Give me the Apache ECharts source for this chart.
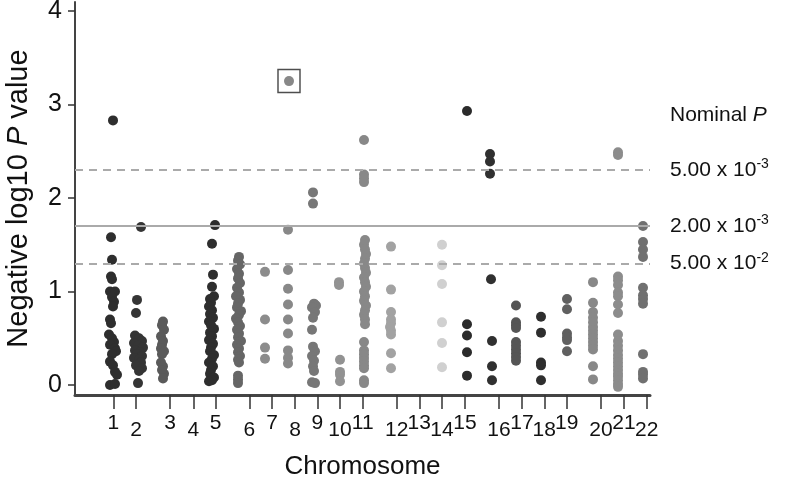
<!DOCTYPE html>
<html>
<head>
<meta charset="utf-8">
<script src="https://cdn.jsdelivr.net/npm/echarts@6/dist/echarts.min.js"></script>
<style>html,body{margin:0;padding:0;background:#fff}#c{width:797px;height:479px}</style>
</head>
<body>
<div id="c"></div>
<script>
// Chromosome names and their cumulative (genome) tick positions
const chromNames = ['1','2','3','4','5','6','7','8','9','10','11','12','13','14','15','16','17','18','19','20','21','22'];
const chromTicks = [38.3, 61, 95, 118.3, 140.7, 174.3, 197, 220, 242.3, 265, 287.7, 321.7, 344.3, 367, 390, 424, 447, 469.3, 491.7, 526, 549, 571.7];
const chromColors = ['#2e2e2e','#353535','#5a5a5a','#444444','#2e2e2e','#666666','#8c8c8c','#888888','#777777','#929292','#888888','#a2a2a2','#aaaaaa','#d0d0d0','#2b2b2b','#303030','#555555','#2e2e2e','#606060','#888888','#8c8c8c','#707070'];

// SNP points per chromosome: [genome position, -log10 P]
const chr1 = [[38,2.83],[36,1.58],[37,1.34],[36,1.16],[37,1.13],[35,1.0],[40,1.0],[37,0.94],[39,0.89],[38,0.84],[35,0.70],[36,0.66],[34,0.54],[37,0.50],[39,0.46],[35,0.43],[40,0.39],[41,0.36],[37,0.33],[35,0.25],[38,0.21],[40,0.14],[42,0.11],[35,0.0],[40,0.01]];
const chr2 = [[66,1.69],[62,0.91],[61,0.77],[60,0.53],[64,0.50],[67,0.47],[59,0.45],[63,0.42],[68,0.40],[60,0.37],[65,0.35],[62,0.33],[67,0.31],[59,0.29],[64,0.27],[66,0.24],[61,0.21],[67,0.18],[64,0.15],[63,0.02]];
const chr3 = [[88,0.68],[87,0.64],[89,0.59],[86,0.52],[88,0.47],[87,0.43],[86,0.39],[89,0.36],[87,0.33],[86,0.24],[88,0.20],[87,0.16],[89,0.12],[88,0.07]];
const chr4 = [];
const chr5 = [[140,1.71],[137,1.51],[138,1.18],[137,1.05],[139,0.95],[135,0.92],[136,0.88],[134,0.84],[137,0.80],[135,0.76],[138,0.72],[134,0.68],[136,0.64],[139,0.60],[135,0.56],[137,0.52],[134,0.48],[138,0.44],[136,0.40],[135,0.36],[139,0.32],[137,0.28],[134,0.24],[138,0.20],[136,0.16],[135,0.12],[139,0.08],[137,0.05],[134,0.04]];
const chr6 = [[164,1.37],[163,1.33],[165,1.29],[162,1.24],[164,1.19],[163,1.14],[165,1.09],[162,1.04],[164,0.99],[161,0.95],[165,0.91],[163,0.87],[162,0.83],[166,0.79],[164,0.75],[161,0.71],[163,0.67],[165,0.63],[162,0.59],[164,0.55],[163,0.51],[166,0.47],[162,0.43],[164,0.39],[163,0.35],[165,0.31],[163,0.27],[164,0.24],[163,0.10],[163,0.06],[163,0.02]];
const chr7 = [[190,1.21],[190,0.70],[190,0.40],[190,0.28]];
const chr8 = [[214,3.25],[213,1.66],[213,1.23],[213,1.03],[213,0.86],[213,0.70],[213,0.55],[213,0.37],[213,0.29],[213,0.23]];
const chr9 = [[238,2.06],[238,1.94],[239,0.87],[241,0.85],[237,0.83],[240,0.78],[238,0.72],[237,0.59],[238,0.41],[240,0.36],[237,0.31],[239,0.26],[238,0.20],[239,0.15],[237,0.03],[240,0.02]];
const chr10 = [[264,1.10],[264,1.07],[265,0.27],[265,0.14],[265,0.11],[265,0.04]];
const chr11 = [[289,2.62],[289,2.25],[289,2.21],[289,2.17],[290,1.55],[289,1.50],[290,1.45],[291,1.40],[290,1.35],[289,1.30],[290,1.25],[291,1.20],[289,1.15],[290,1.10],[291,1.05],[289,1.00],[290,0.95],[289,0.90],[291,0.85],[290,0.80],[289,0.75],[290,0.70],[290,0.65],[289,0.46],[289,0.37],[289,0.33],[289,0.29],[289,0.25],[289,0.21],[289,0.18],[289,0.05],[289,0.02]];
const chr12 = [[316,1.48],[316,1.02],[316,0.78],[316,0.70],[316,0.66],[315,0.62],[316,0.58],[316,0.54],[316,0.34],[316,0.18]];
const chr13 = [];
const chr14 = [[367,1.50],[367,1.28],[367,1.08],[367,0.67],[367,0.45],[367,0.19]];
const chr15 = [[392,2.93],[392,0.65],[392,0.53],[392,0.35],[392,0.10]];
const chr16 = [[415,2.47],[415,2.39],[415,2.26],[416,1.13],[417,0.47],[417,0.20],[417,0.05]];
const chr17 = [[441,0.85],[441,0.67],[441,0.64],[441,0.61],[441,0.46],[441,0.42],[441,0.38],[441,0.34],[441,0.30],[441,0.26]];
const chr18 = [[466,0.73],[466,0.56],[466,0.24],[466,0.21],[466,0.05]];
const chr19 = [[492,0.92],[492,0.81],[492,0.55],[492,0.51],[492,0.48],[492,0.36]];
const chr20 = [[518,1.10],[518,0.88],[518,0.78],[518,0.72],[518,0.67],[518,0.62],[518,0.58],[518,0.54],[518,0.50],[518,0.46],[518,0.42],[518,0.38],[518,0.20],[518,0.06]];
const chr21 = [[543,2.49],[543,2.46],[543,1.16],[543,1.12],[543,1.07],[543,0.99],[543,0.95],[543,0.86],[543,0.77],[543,0.54],[543,0.47],[543,0.42],[543,0.37],[543,0.32],[543,0.28],[543,0.24],[543,0.20],[543,0.16],[543,0.12],[543,0.09],[543,0.05],[543,0.01],[543,-0.02]];
const chr22 = [[568,1.70],[568,1.53],[568,1.45],[568,1.37],[568,1.04],[568,0.96],[568,0.92],[568,0.87],[568,0.33],[568,0.14],[568,0.11],[568,0.07]];
const chromData = [chr1,chr2,chr3,chr4,chr5,chr6,chr7,chr8,chr9,chr10,chr11,chr12,chr13,chr14,chr15,chr16,chr17,chr18,chr19,chr20,chr21,chr22];

// Significance thresholds (-log10 P) and their labels
const thresholdValues = [2.30, 1.70, 1.30];
const thresholdBase = ['5.00 x 10', '2.00 x 10', '5.00 x 10'];
const thresholdExp = ['-3', '-3', '-2'];
const thresholdDash = [true, false, true];
const yTicks = [0, 1, 2, 3, 4];
const highlighted = [chr8[0]];

const FONT = 'Liberation Sans, Arial, Helvetica, sans-serif';
const chart = echarts.init(document.getElementById('c'));

// staggered tick labels: odd chromosomes on the upper row, even on the lower row
const upperTicks = chromTicks.filter((t, k) => k % 2 === 0);
const lowerTicks = chromTicks.filter((t, k) => k % 2 === 1);
function chromLabel(v) {
  let idx = 0, best = 1e9;
  chromTicks.forEach((t, k) => { const dd = Math.abs(t - v); if (dd < best) { best = dd; idx = k; } });
  return chromNames[idx];
}

const series = [];
series.push({
  type: 'scatter', data: [], z: 1, silent: true,
  markLine: {
    silent: true, symbol: 'none', animation: false,
    data: thresholdValues.map((v, i) => ({
      yAxis: v,
      lineStyle: { color: '#aaaaaa', width: 2, type: thresholdDash[i] ? [8, 6] : 'solid' },
      label: {
        show: true, position: 'end', distance: 20,
        formatter: '{n|' + thresholdBase[i] + '}{s|' + thresholdExp[i] + '}',
        rich: {
          n: { fontSize: 21, fontFamily: FONT, color: '#111' },
          s: { fontSize: 14, fontFamily: FONT, color: '#111', padding: [0, 0, 11, 0] }
        }
      }
    }))
  }
});
chromData.forEach((d, i) => {
  series.push({
    type: 'scatter', data: d, symbol: 'circle', symbolSize: 10, z: 3, silent: true,
    itemStyle: { color: chromColors[i], opacity: 1 }
  });
});
series.push({
  type: 'scatter', data: highlighted, symbol: 'rect', symbolSize: [22, 23], z: 4, silent: true,
  itemStyle: { color: 'rgba(0,0,0,0)', borderColor: '#222', borderWidth: 1.5 }
});

const commonX = { type: 'value', min: 0, max: 575, position: 'bottom', splitLine: { show: false } };

chart.setOption({
  animation: false,
  backgroundColor: '#ffffff',
  grid: { left: 75, right: 147, top: 2, bottom: 84, containLabel: false, outerBoundsMode: 'none' },
  xAxis: [Object.assign({}, commonX, {
    name: 'Chromosome', nameLocation: 'middle', nameGap: 59,
    nameTextStyle: { fontSize: 26, fontFamily: FONT, color: '#111' },
    axisLine: { show: true, onZero: false, lineStyle: { color: '#444', width: 3 } },
    axisTick: { show: true, customValues: chromTicks, length: 14, lineStyle: { color: '#333', width: 1.5 } },
    axisLabel: {
      show: true, customValues: upperTicks, margin: 18, hideOverlap: false,
      showMaxLabel: true, showMinLabel: true, formatter: chromLabel,
      fontSize: 21, fontFamily: FONT, color: '#111'
    }
  }), Object.assign({}, commonX, {
    axisLine: { show: false, onZero: false },
    axisTick: { show: false },
    axisLabel: {
      show: true, customValues: lowerTicks, margin: 25, hideOverlap: false,
      showMaxLabel: true, showMinLabel: true, formatter: chromLabel,
      fontSize: 21, fontFamily: FONT, color: '#111'
    }
  })],
  yAxis: {
    type: 'value', min: -0.107, max: 4.096,
    name: '{a|Negative log10 }{i|P}{a| value}', nameLocation: 'middle', nameGap: 42, nameRotate: 90,
    nameTextStyle: {
      rich: {
        a: { fontSize: 29, fontFamily: FONT, color: '#111' },
        i: { fontSize: 29, fontFamily: FONT, color: '#111', fontStyle: 'italic' }
      }
    },
    axisLine: { show: true, onZero: false, lineStyle: { color: '#444', width: 2 } },
    axisTick: { show: true, customValues: yTicks, length: 7, lineStyle: { color: '#333', width: 1.5 } },
    axisLabel: { show: true, customValues: yTicks, margin: 13, fontSize: 25, fontFamily: FONT, color: '#111', showMaxLabel: true, showMinLabel: true },
    splitLine: { show: false }
  },
  graphic: [{
    type: 'text', left: 670, top: 105,
    style: {
      text: '{a|Nominal }{i|P}',
      rich: {
        a: { fontSize: 21, fontFamily: FONT, fill: '#111' },
        i: { fontSize: 21, fontFamily: FONT, fill: '#111', fontStyle: 'italic' }
      }
    }
  }],
  series: series
});
</script>
</body>
</html>
